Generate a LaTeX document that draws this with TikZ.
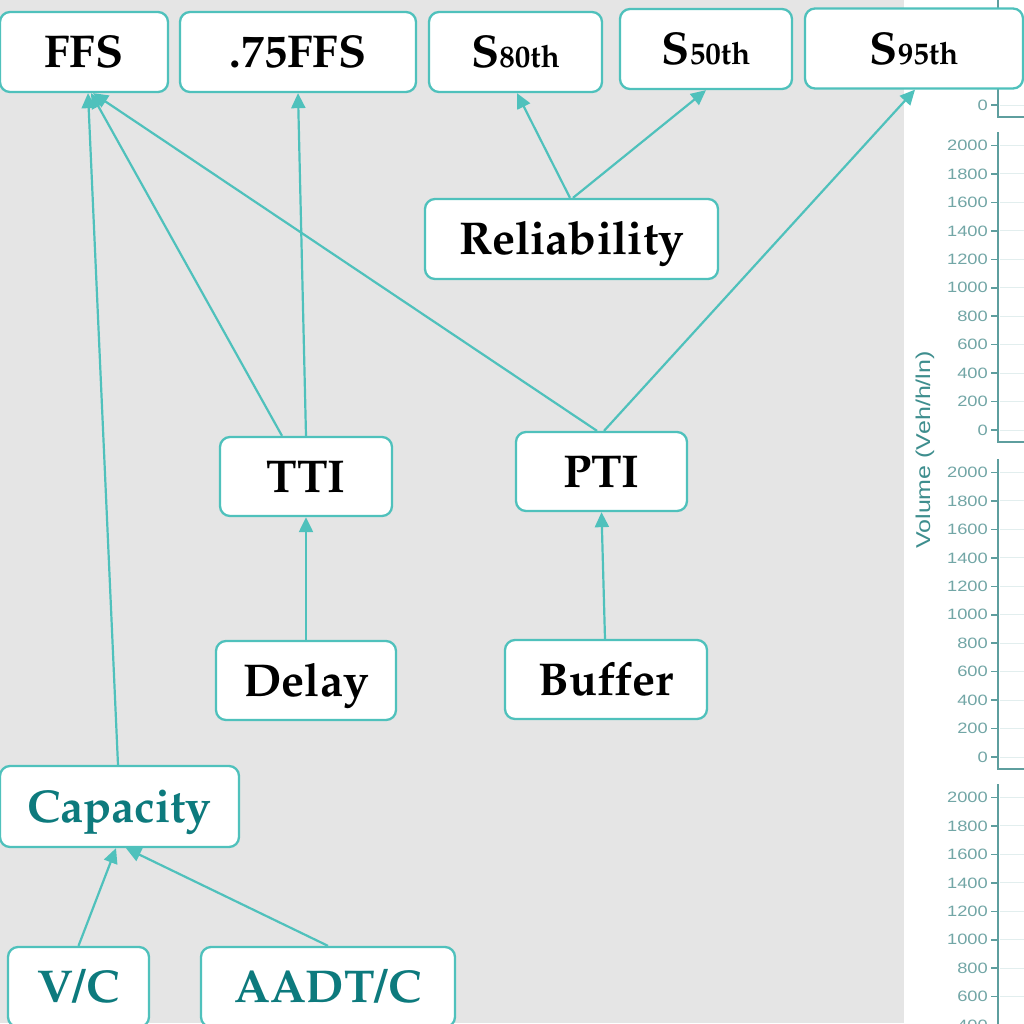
\documentclass[tikz,border=0pt]{standalone}
\usepackage{graphicx}
\usepackage[T1]{fontenc}
\usepackage{fontspec}
\newfontfamily\arialf{Liberation Sans}
\newfontfamily\serifb{Liberation Serif}
\IfFileExists{t1qpl.fd}{%
  \newcommand\palb{\fontencoding{T1}\fontfamily{qpl}\fontseries{b}\selectfont}}{%
  \IfFileExists{t1ppl.fd}{%
    \newcommand\palb{\fontencoding{T1}\fontfamily{ppl}\fontseries{b}\selectfont}}{%
    \newcommand\palb{\serifb\bfseries}}}
\usetikzlibrary{arrows.meta}
\definecolor{bg}{HTML}{E5E5E5}
\definecolor{edge}{HTML}{4FC1BC}
\definecolor{tealtxt}{HTML}{0D7A7D}
\definecolor{ticktxt}{HTML}{72A6A6}
\definecolor{axiscol}{HTML}{5E9E9E}
\definecolor{gridcol}{HTML}{E2EEEE}
\definecolor{voltxt}{HTML}{3E8E8E}
\newcommand\subsz{\fontsize{31}{34}\selectfont}
\tikzset{
  box/.style={draw=edge, line width=2.3pt, rounded corners=10pt, fill=white,
    inner sep=0pt, text height=31pt, text depth=0pt, minimum height=80pt,
    font=\palb\fontsize{46}{50}\selectfont},
  tealbox/.style={box, text=tealtxt},
  link/.style={draw=edge, line width=2.2pt, -{Triangle[length=15pt,width=14pt]}},
  ticklab/.style={anchor=east, inner sep=0pt, text=ticktxt, font=\arialf\fontsize{15}{15}\selectfont},
}
\begin{document}
\begin{tikzpicture}[x=1pt,y=-1pt]
\useasboundingbox (0,0) rectangle (1024,1023);
\fill[bg] (0,0) rectangle (904,1023);
\fill[white] (904,0) rectangle (1024,1023);
% chart panels on the right
\foreach \z/\kmax in {105/3,430/10,757/10,1082/10}{
  \foreach \k in {0,...,\kmax}{
    \pgfmathsetmacro\yy{\z-\k*28.45}
    \pgfmathtruncatemacro\vv{\k*200}
    \draw[gridcol, line width=1pt] (1000,\yy) -- (1024,\yy);
    \draw[axiscol, line width=1.5pt] (991,\yy) -- (998,\yy);
    \node[ticklab] at (988,\yy) {\scalebox{1.22}[1]{\vv}};
  }
  \draw[axiscol, line width=1.5pt] (998,\z-298) -- (998,\z+12) -- (1024,\z+12);
}
\node[rotate=90, inner sep=0pt, text=voltxt, font=\arialf\fontsize{20}{20}\selectfont] (vol) at (925,450) {\scalebox{1.25}[1]{Volume (Veh/h/ln)}};
% nodes
\node[box, minimum width=168pt] (ffs) at (84,52) {FFS};
\node[box, minimum width=236pt] (ffs75) at (298,52) {.75FFS};
\node[box, minimum width=173pt] (s80) at (515.5,52) {S{\subsz 80th}};
\node[box, minimum width=172pt] (s50) at (706,49) {S{\subsz 50th}};
\node[box, minimum width=218pt] (s95) at (914,48.5) {S{\subsz 95th}};
\node[box, minimum width=293pt] (rel) at (571.5,239) {Reliability};
\node[box, minimum width=172pt, minimum height=79pt] (tti) at (306,476.5) {TTI};
\node[box, minimum width=171pt, minimum height=79pt] (pti) at (601.5,471.5) {PTI};
\node[box, minimum width=180pt, minimum height=79pt] (delay) at (306,680.5) {Delay};
\node[box, minimum width=202pt, minimum height=79pt] (buffer) at (606,679.5) {Buffer};
\node[tealbox, minimum width=239pt, minimum height=81pt] (cap) at (119.5,806.5) {Capacity};
\node[tealbox, minimum width=141pt] (vc) at (78.5,987) {V/C};
\node[tealbox, minimum width=254pt] (aadt) at (328,987) {AADT/C};
% connectors
\draw[link] ([xshift=-1.5pt]cap.north) -- ([xshift=4pt]ffs.south);
\draw[link] ([xshift=-24pt]tti.north) -- ([xshift=7pt]ffs.south);
\draw[link] (tti.north) -- (ffs75.south);
\draw[link] ([xshift=-4.5pt]pti.north) -- ([xshift=9pt]ffs.south);
\draw[link] ([xshift=2.5pt]pti.north) -- ([xshift=1pt]s95.south);
\draw[link] ([xshift=-1.5pt]rel.north) -- ([xshift=1.5pt]s80.south);
\draw[link] ([xshift=1.5pt]rel.north) -- (s50.south);
\draw[link] (delay.north) -- (tti.south);
\draw[link] ([xshift=-1pt]buffer.north) -- (pti.south);
\draw[link] (vc.north) -- ([xshift=-3.5pt]cap.south);
\draw[link] (aadt.north) -- ([xshift=6.5pt]cap.south);
\end{tikzpicture}
\end{document}
